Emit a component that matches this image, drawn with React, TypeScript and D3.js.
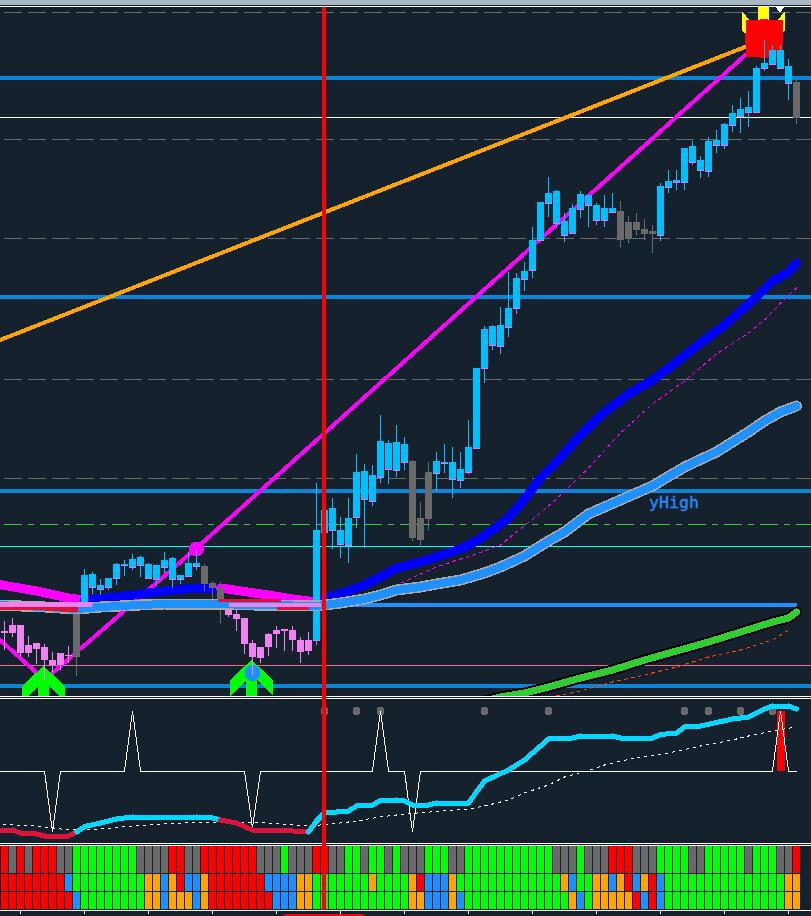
import * as React from 'react';
import {useEffect, useRef} from 'react';
import * as d3 from 'd3';

const width = 811;
const height = 916;

// candle table (main panel price units)
const candleKinds =
  'ppppppppp' + 'g' + 'bbbbbbbbbbbbbbb' + 'ggg' + 'ppppppppppp' + 'bbbbbbbbbbbb' +
  'ggg' + 'bbbbbbbbbbbbbbbbbbbbbbb' + 'ggggg' + 'bbbbbbbbbbbbbbbbb' + 'g';
const candleHigh = [
  79, 82, 75, 64, 57, 56, 48, 47, 54, 88, 131, 128, 121, 122, 137, 140, 146, 144, 137, 135,
  148, 143, 125, 148, 150, 136, 119, 118, 93, 90, 82, 60, 53, 67, 74, 71, 74, 63, 68, 217,
  190, 202, 183, 202, 246, 236, 235, 285, 260, 275, 263, 240, 198, 238, 248, 256, 253, 248, 280, 332,
  374, 375, 393, 428, 427, 438, 473, 498, 523, 510, 487, 496, 509, 505, 497, 505, 507, 499, 484, 487,
  481, 475, 517, 530, 530, 552, 559, 544, 563, 570, 577, 595, 602, 609, 634, 660, 655, 655, 641, 620,
];
const candleTop = [
  69, 75, 75, 55, 57, 53, 40, 47, 45, 88, 125, 126, 115, 122, 136, 136, 141, 143, 136, 135,
  140, 142, 125, 137, 137, 134, 117, 112, 93, 86, 82, 57, 53, 66, 70, 71, 70, 60, 60, 170,
  190, 192, 170, 182, 228, 229, 225, 259, 257, 258, 256, 239, 182, 228, 239, 238, 238, 231, 253, 332,
  371, 374, 375, 392, 422, 429, 460, 498, 507, 509, 479, 492, 506, 505, 495, 492, 492, 489, 478, 478,
  471, 469, 514, 519, 520, 552, 554, 540, 559, 560, 576, 587, 591, 593, 632, 637, 650, 650, 634, 618,
];
const candleBottom = [
  67, 67, 47, 47, 51, 40, 35, 35, 44, 43, 95, 113, 111, 113, 122, 135, 133, 135, 122, 121,
  133, 121, 121, 124, 134, 116, 112, 91, 85, 81, 56, 43, 42, 53, 66, 69, 60, 48, 49, 60,
  168, 170, 156, 155, 183, 201, 199, 223, 231, 230, 238, 162, 160, 181, 227, 237, 221, 220, 228, 252,
  332, 355, 354, 373, 392, 421, 430, 460, 497, 477, 465, 467, 491, 495, 480, 480, 488, 460, 461, 470,
  466, 466, 465, 513, 518, 518, 538, 530, 529, 555, 555, 575, 584, 588, 588, 632, 636, 632, 617, 582,
];
const candleLow = [
  50, 63, 43, 43, 36, 20, 28, 30, 37, 24, 95, 106, 105, 110, 115, 124, 130, 123, 121, 114,
  127, 112, 116, 123, 130, 109, 100, 77, 83, 69, 46, 25, 37, 44, 52, 49, 49, 37, 45, 55,
  160, 151, 142, 137, 172, 152, 194, 217, 216, 223, 230, 159, 155, 170, 209, 227, 202, 212, 226, 251,
  317, 350, 346, 363, 386, 409, 422, 460, 483, 472, 458, 466, 482, 473, 475, 473, 487, 453, 457, 465,
  460, 447, 459, 507, 510, 510, 535, 522, 523, 547, 551, 568, 567, 573, 587, 629, 635, 632, 600, 576,
];

// horizontal levels
const thickLevels = [622, 403, 209, 14];
const whiteLevels = [583];
const dashedLevels = [688, 561, 462, 321, 222];
const greenDashLevel = 175.5;
const cyanLevel = 154;
const paleLevel = 35;
const supportLevel = 95;

// trend lines
const zigzagBars = [-0.55, 5, 24, 92.6];
const zigzagVals = [60, 20, 152, 645];
const orangeBars = [-0.55, 93.2];
const orangeVals = [360, 655];

// thick moving average, blue rising, magenta falling
const maBars = [-1, 4, 8, 10, 14, 20, 24, 27, 30, 33, 36, 38, 39, 41, 43, 45, 47, 49, 51, 54, 57, 59, 61, 63, 65, 67, 69, 72, 75, 78, 81, 84, 87, 90, 93, 94, 96, 98, 99];
const maVals = [116, 109, 102, 100, 103, 109, 112, 112, 108.5, 105, 101, 99, 98, 104, 109, 115, 123, 132, 136, 143, 151, 159, 170, 182, 201, 222, 238, 265, 288, 306, 320, 338, 357, 375, 396, 403, 419, 428, 437];
const signalBars = [48, 52, 54, 57, 59, 62, 64, 67, 69, 73, 77, 81, 85, 89, 93, 95, 97, 99];
const signalVals = [111, 126, 133, 141, 146, 155, 168, 187, 201, 232, 267, 296, 319, 346, 367, 380, 397, 412];

// slower average with the grey outline
const bandBars = [-1, 5, 9, 12, 17, 20, 26, 31, 36, 39, 42, 45, 47, 49, 52, 54, 57, 60, 62, 65, 68, 70, 73, 77, 81, 85, 89, 93, 95, 97, 99];
const bandVals = [95, 93, 91, 93, 95, 96, 96, 95, 94.5, 94, 97, 101, 105, 110, 113, 116, 120, 127, 133, 144, 159, 168, 186, 200, 214, 233, 248, 268, 279, 288, 294];
const pinkBarsA = [-1, 10.9];
const pinkValsA = [95.5, 95.5];
const pinkBarsB = [28, 39.5];
const pinkValsB = [95, 95];
const crimsonBarsA = [-1, 5, 9.2];
const crimsonValsA = [93, 92, 90];
const crimsonBarsB = [26.7, 34.5];
const crimsonValsB = [99.5, 99.5];
const crimsonBarsC = [34, 38];
const crimsonValsC = [91.5, 91.5];

// slowest average, mostly below the visible range at the left
const greenBars = [59, 62, 65, 68, 72, 76, 80, 84, 88, 92, 96, 98, 99];
const greenVals = [-3, 3, 7, 13, 22, 30, 40, 49, 58, 68, 78, 82, 88];
const redDotBars = [69, 72, 76, 80, 84, 88, 92, 96, 98];
const redDotVals = [4, 9, 18, 25, 33, 43, 50, 60, 70];

// markers
const buyArrowBars = [5, 31];
const buyArrowVals = [34, 40];
const sellArrowBar = 95;
const sellArrowVal = 649;
const magentaDotBar = 24;
const magentaDotVal = 151;
const blueDotBar = 31;
const blueDotVal = 27;
const squareBar = 95;
const squareVal = 661.5;

// oscillator panel
const spikeBars = [-1, 5, 6, 7, 15, 16, 17, 30, 31, 32, 46, 47, 48, 50, 51, 52, 96, 97, 98, 99];
const spikeVals = [72, 72, 11, 72, 72, 132, 72, 72, 15, 72, 72, 132, 72, 72, 11, 72, 72, 132, 72, 72];
const oscBars = [-1, 1, 2, 4, 5, 8, 9, 10, 12, 14, 16, 24, 26, 27, 29, 31, 36, 38, 39, 40, 43, 44, 46, 47, 49, 50, 51, 53, 54, 58, 60, 63, 65, 68, 71, 72, 76, 77, 81, 82, 84, 85, 87, 91, 93, 95, 96, 98, 99];
const oscVals = [13, 13, 10, 9, 7, 7, 11, 16.5, 20, 24, 26, 26, 25, 23, 20, 13, 12, 11, 22, 30, 32, 37, 38, 42.5, 43, 42, 38, 38, 40, 40, 62, 73, 83, 104, 105, 107, 107, 105, 105, 108.5, 110, 116, 117, 124, 126, 134, 137, 137, 134];
const oscRedRanges = [[-1, 9], [27, 38]];
const oscSignalBars = [-1, 4, 8, 12, 16, 20, 25, 30, 33, 38, 41, 44, 47, 50, 54, 58, 60, 63, 65, 68, 70, 73, 75, 79, 83, 87, 91, 93, 96, 99];
const oscSignalVals = [19, 17, 13, 14, 17, 19, 21, 21, 20, 17, 19, 22, 26, 29, 31.5, 34, 37, 43, 50, 58, 66, 72.5, 78, 85.5, 90, 97, 103, 107, 112, 116];
const oscDotBars = [40, 44, 47, 60, 68, 85, 88, 92, 96];
const oscDotVal = 132;
const histBar = 97;
const histVal = 132;
const histBase = 72;

// strength heatmap, R red, X grey, L lime, B blue, O orange
const heatRows = [
  'RXRXRRRXXLLLLLLLLXXXXRRXXRRRRRRRXXXLXXXRRXXLLXLLXLXXXLLLXXLLLLLLLLLLLXXXLXXXRRRXXXLLLLXXLLLLLXLLLXXR',
  'RRRRRRRRBLLLLLLLLLOOBORBBORRRRRRRBBBBOOLLLLLLLOLLLLORBBBOLLLLLLLLLLLLLOBLLOOBORBORBLLLLLLLLLLLLLLLOO',
  'RRRRRRRRRBLLLLLLLLOOBOOOBORRRRRRRRBBBOOLLLLLLLLLLLLOOBBBOBLLLLLLLLLLLLLOBLOOOOORBRBLLLLLLLLLLLLLLLOO',
];
const heatColors: Record<string, string> = {R: '#ff0000', X: '#696969', L: '#00ff00', B: '#1e90ff', O: '#ffa500'};
const tickBars = [2, 10, 18, 26, 34, 42, 50, 58, 66, 74, 82, 90, 98];

const x = d3.scaleLinear().domain([0, 99]).range([4.5, 796.5]);
const y = d3.scaleLinear().domain([0, 700]).range([700, 0]);
const oscY = d3.scaleLinear().domain([0, 145]).range([843, 698]);

const pathOf = (bars: number[], vals: number[], scale: d3.ScaleLinear<number, number>) =>
  d3.line<number>().x((_, k) => x(bars[k])).y(d => scale(d))(vals);

export default function App() {
  const ref = useRef<SVGSVGElement>(null);

  useEffect(() => {
    const svg = d3.select(ref.current);
    svg.selectAll('*').remove();

    svg.append('rect').attr('width', width).attr('height', height).attr('fill', '#16212e');
    svg.append('rect').attr('width', width).attr('height', 5).attr('fill', '#a9b6c4');

    const defs = svg.append('defs');
    defs.append('clipPath').attr('id', 'main-clip').append('rect')
      .attr('x', 0).attr('y', 6).attr('width', width).attr('height', 690);
    defs.append('clipPath').attr('id', 'osc-clip').append('rect')
      .attr('x', 0).attr('y', 699).attr('width', width).attr('height', 143);

    const main = svg.append('g').attr('clip-path', 'url(#main-clip)');

    const hline = (g: any, v: number, color: string, w: number, dash?: string, x0 = 0, x1 = width) =>
      g.append('line')
        .attr('x1', x0).attr('x2', x1).attr('y1', y(v)).attr('y2', y(v))
        .attr('stroke', color).attr('stroke-width', w)
        .attr('stroke-dasharray', dash ?? null);

    dashedLevels.forEach(v => hline(main, v, '#6b6b6b', 1, '18,6', 4));
    hline(main, greenDashLevel, '#32cd32', 1, '18,6,6,6', 4);
    whiteLevels.forEach(v => hline(main, v, '#ffffff', 1));
    hline(main, cyanLevel, '#00ffff', 1);
    hline(main, paleLevel, '#db7093', 1);
    thickLevels.forEach(v => hline(main, v, '#0a85d9', 4));
    hline(main, supportLevel, '#1e90ff', 4, undefined, 320, 797);

    const curve = (g: any, bars: number[], vals: number[], color: string, w: number, dash?: string) =>
      g.append('path')
        .attr('d', pathOf(bars, vals, y))
        .attr('fill', 'none').attr('stroke', color).attr('stroke-width', w)
        .attr('stroke-linecap', 'round').attr('stroke-linejoin', 'round')
        .attr('stroke-dasharray', dash ?? null);

    curve(main, orangeBars, orangeVals, '#ffa500', 4);
    curve(main, zigzagBars, zigzagVals, '#ff00ff', 4);

    curve(main, signalBars, signalVals, '#ff00ff', 1, '3,4');
    curve(main, greenBars, greenVals, '#000000', 11);
    curve(main, greenBars, greenVals, '#32cd32', 7);
    curve(main, redDotBars, redDotVals, '#ff4500', 1, '3,4');

    // ma colored by direction
    maVals.slice(1).forEach((v, k) => {
      const up = v >= maVals[k];
      curve(main, maBars.slice(k, k + 2), maVals.slice(k, k + 2), up ? '#0000ff' : '#ff00ff', 9);
    });

    // buy and sell arrows share one shape, dir flips it
    const arrow = (bar: number, val: number, dir: number, color: string, tip: number) => {
      const c = x(bar) - 1;
      const a = y(val);
      const pts: [number, number][] = [
        [c, a], [c + 21.5, a + dir * 20], [c + 21.5, a + dir * tip], [c + 5.5, a + dir * 20],
        [c + 5.5, a + dir * 46], [c - 5.5, a + dir * 46], [c - 5.5, a + dir * 20],
        [c - 21.5, a + dir * tip], [c - 21.5, a + dir * 20],
      ];
      main.append('polygon').attr('points', pts.join(' ')).attr('fill', color);
    };
    buyArrowBars.forEach((b, k) => arrow(b, buyArrowVals[k], 1, '#00ff00', 36));
    arrow(sellArrowBar, sellArrowVal, -1, '#ffff00', 40);

    main.append('circle').attr('cx', x(magentaDotBar)).attr('cy', y(magentaDotVal)).attr('r', 7.5).attr('fill', '#ff00ff');
    main.append('circle').attr('cx', x(blueDotBar)).attr('cy', y(blueDotVal)).attr('r', 8).attr('fill', '#1e90ff');

    const sx = x(squareBar) - 0.5;
    const sy = y(squareVal);
    main.append('circle').attr('cx', sx).attr('cy', sy).attr('r', 19.5).attr('fill', '#ff0000');
    main.append('rect').attr('x', sx - 18.5).attr('y', sy - 18.5).attr('width', 37).attr('height', 37).attr('fill', '#ff0000');
    main.append('polygon')
      .attr('points', [[x(97) - 5.5, 6], [x(97) + 4.5, 6], [x(97) - 0.5, 13]].join(' '))
      .attr('fill', '#ffffff');

    // candles
    const bodyColor: Record<string, string> = {b: '#00bfff', p: '#ee82ee', g: '#696969'};
    const tipColor: Record<string, string> = {b: '#ff66ff', p: '#ee82ee', g: '#00bfff'};
    const idx = d3.range(candleHigh.length);
    const kind = (i: number) => candleKinds[i];
    const candles = main.append('g').attr('shape-rendering', 'crispEdges');

    candles.selectAll('rect.wick').data(idx).join('rect')
      .attr('class', 'wick')
      .attr('x', i => x(i) - 0.5).attr('width', 1)
      .attr('y', i => y(candleHigh[i]))
      .attr('height', i => y(candleLow[i]) - y(candleHigh[i]))
      .attr('fill', i => bodyColor[kind(i)]);
    candles.selectAll('rect.tip').data(idx).join('rect')
      .attr('class', 'tip')
      .attr('x', i => x(i) - 0.5).attr('width', 1)
      .attr('y', i => y(candleLow[i]) - 1).attr('height', 1)
      .attr('fill', i => tipColor[kind(i)]);
    candles.selectAll('rect.body').data(idx).join('rect')
      .attr('class', 'body')
      .attr('x', i => x(i) - 3.5).attr('width', 7)
      .attr('y', i => y(candleTop[i]))
      .attr('height', i => Math.max(1, y(candleBottom[i]) - y(candleTop[i])))
      .attr('fill', i => bodyColor[kind(i)]);
    candles.selectAll('rect.edge').data(idx.filter(i => kind(i) === 'b')).join('rect')
      .attr('class', 'edge')
      .attr('x', i => x(i) - 3.5).attr('width', 7)
      .attr('y', i => y(candleBottom[i])).attr('height', 1)
      .attr('fill', '#ff66ff');

    curve(main, bandBars, bandVals, '#a9a9a9', 11);
    curve(main, bandBars, bandVals, '#1e90ff', 8);
    curve(main, crimsonBarsA, crimsonValsA, '#dc143c', 5).attr('stroke-linecap', 'butt');
    curve(main, crimsonBarsB, crimsonValsB, '#dc143c', 3).attr('stroke-linecap', 'butt');
    curve(main, crimsonBarsC, crimsonValsC, '#dc143c', 3).attr('stroke-linecap', 'butt');
    curve(main, pinkBarsA, pinkValsA, '#ee82ee', 4.5).attr('stroke-linecap', 'butt');
    curve(main, pinkBarsB, pinkValsB, '#ee82ee', 4.5).attr('stroke-linecap', 'butt');

    main.append('text')
      .attr('x', 649).attr('y', 508)
      .attr('font-family', '"DejaVu Sans Mono", monospace')
      .attr('font-size', 16.6)
      .attr('fill', '#1e90ff').attr('stroke', '#1e90ff').attr('stroke-width', 0.3)
      .text('yHigh');

    // oscillator panel
    const osc = svg.append('g').attr('clip-path', 'url(#osc-clip)');
    osc.append('rect')
      .attr('x', x(histBar) - 4).attr('width', 8)
      .attr('y', oscY(histVal)).attr('height', oscY(histBase) - oscY(histVal))
      .attr('fill', '#ff0000').attr('shape-rendering', 'crispEdges');
    osc.selectAll('circle').data(oscDotBars).join('circle')
      .attr('cx', d => x(d)).attr('cy', oscY(oscDotVal)).attr('r', 4).attr('fill', '#696969');

    osc.append('path').attr('d', pathOf(spikeBars, spikeVals, oscY))
      .attr('fill', 'none').attr('stroke', '#ffffff').attr('stroke-width', 1);
    osc.append('path').attr('d', pathOf(oscSignalBars, oscSignalVals, oscY))
      .attr('fill', 'none').attr('stroke', '#ffffff').attr('stroke-width', 1).attr('stroke-dasharray', '3,4');

    oscVals.slice(1).forEach((_, k) => {
      const mid = (oscBars[k] + oscBars[k + 1]) / 2;
      const red = oscRedRanges.some(([a, b]) => mid > a && mid < b);
      osc.append('path')
        .attr('d', pathOf(oscBars.slice(k, k + 2), oscVals.slice(k, k + 2), oscY))
        .attr('fill', 'none').attr('stroke', red ? '#dc143c' : '#00d8ff')
        .attr('stroke-width', 5).attr('stroke-linecap', 'round');
    });

    // heatmap
    const rowTop = [846, 874, 892];
    const rowH = [27, 17, 17];
    const heat = svg.append('g').attr('shape-rendering', 'crispEdges');
    heatRows.forEach((row, r) => {
      heat.append('g').selectAll('rect').data(row.split('')).join('rect')
        .attr('x', (_, i) => x(i) - 3.5).attr('width', 7)
        .attr('y', rowTop[r]).attr('height', rowH[r])
        .attr('fill', d => heatColors[d]);
    });

    // panel borders
    const border = svg.append('g').attr('stroke', '#ffffff').attr('stroke-width', 1).attr('shape-rendering', 'crispEdges');
    [6, 696.5, 698.5, 843.5, 845, 910.5].forEach(v => {
      border.append('line').attr('x1', 0).attr('x2', width).attr('y1', v).attr('y2', v);
    });
    tickBars.forEach(b => {
      border.append('line').attr('x1', x(b)).attr('x2', x(b)).attr('y1', 911).attr('y2', 914);
    });

    svg.append('rect').attr('x', 284).attr('y', 914).attr('width', 80).attr('height', 2).attr('fill', '#ff0000');

    // cursor line on top of everything
    svg.append('rect').attr('x', x(40) - 2.5).attr('y', 7).attr('width', 4).attr('height', 903).attr('fill', '#ff0000');
  }, []);

  return (
    <svg
      ref={ref}
      width={width}
      height={height}
      shapeRendering="crispEdges"
      style={{position: 'absolute', left: 0, top: 0, display: 'block'}}
    />
  );
}
